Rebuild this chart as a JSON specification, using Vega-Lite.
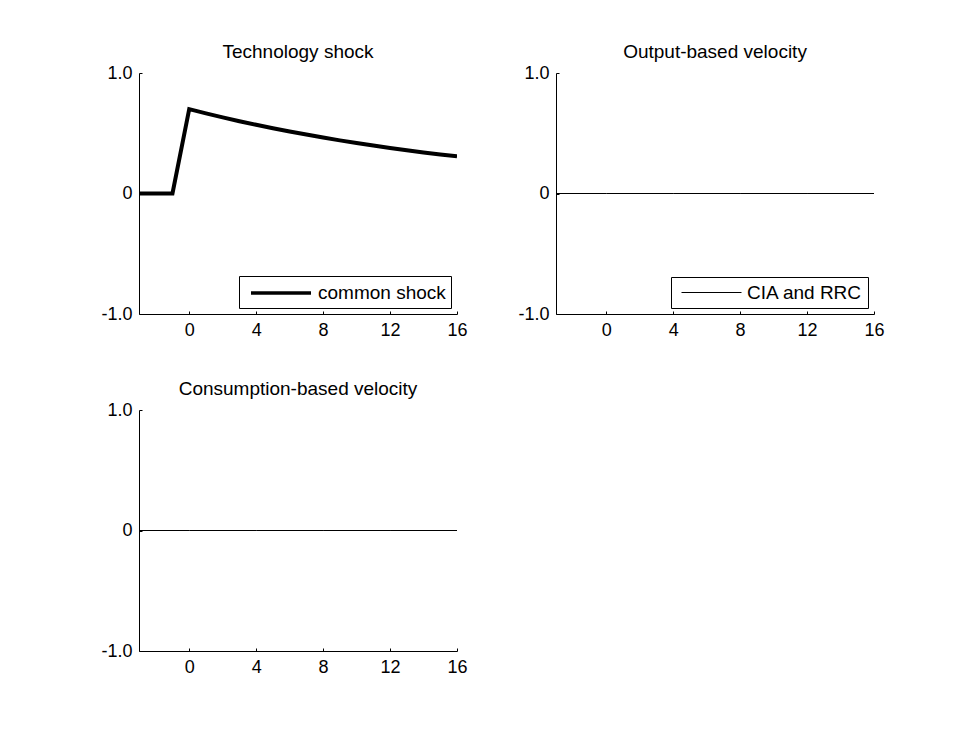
{
  "$schema": "https://vega.github.io/schema/vega-lite/v6.json",
  "autosize": {"type": "pad"},
  "padding": {"left": 100, "top": 43, "right": 10, "bottom": 10},
  "background": "white",
  "config": {
    "font": "Liberation Sans",
    "view": {"stroke": null},
    "axis": {
      "grid": false,
      "domainColor": "#000000",
      "tickColor": "#000000",
      "labelColor": "#000000",
      "labelFont": "Liberation Sans",
      "labelFontSize": 18,
      "tickSize": -3,
      "labelFlush": false,
      "labelOverlap": false,
      "title": null
    },
    "title": {"font": "Liberation Sans", "fontSize": 19, "fontWeight": "normal", "color": "#000000", "offset": 2},
    "legend": {
      "orient": "bottom-right",
      "offset": 6,
      "strokeColor": "#000000",
      "fillColor": "white",
      "padding": 5,
      "labelFont": "Liberation Sans",
      "labelFontSize": 19,
      "labelColor": "#000000",
      "symbolType": "M-0.5,0H5.5",
      "symbolSize": 400,
      "labelOffset": 50,
      "title": null
    }
  },
  "data": {
    "values": [
      {"panel": "tech", "series": "common shock", "t": -3, "v": 0},
      {"panel": "tech", "series": "common shock", "t": -2, "v": 0},
      {"panel": "tech", "series": "common shock", "t": -1, "v": 0},
      {"panel": "tech", "series": "common shock", "t": 0, "v": 0.700},
      {"panel": "tech", "series": "common shock", "t": 1, "v": 0.665},
      {"panel": "tech", "series": "common shock", "t": 2, "v": 0.632},
      {"panel": "tech", "series": "common shock", "t": 3, "v": 0.600},
      {"panel": "tech", "series": "common shock", "t": 4, "v": 0.570},
      {"panel": "tech", "series": "common shock", "t": 5, "v": 0.542},
      {"panel": "tech", "series": "common shock", "t": 6, "v": 0.515},
      {"panel": "tech", "series": "common shock", "t": 7, "v": 0.489},
      {"panel": "tech", "series": "common shock", "t": 8, "v": 0.464},
      {"panel": "tech", "series": "common shock", "t": 9, "v": 0.441},
      {"panel": "tech", "series": "common shock", "t": 10, "v": 0.419},
      {"panel": "tech", "series": "common shock", "t": 11, "v": 0.398},
      {"panel": "tech", "series": "common shock", "t": 12, "v": 0.378},
      {"panel": "tech", "series": "common shock", "t": 13, "v": 0.359},
      {"panel": "tech", "series": "common shock", "t": 14, "v": 0.341},
      {"panel": "tech", "series": "common shock", "t": 15, "v": 0.324},
      {"panel": "tech", "series": "common shock", "t": 16, "v": 0.308},
      {"panel": "output", "series": "CIA and RRC", "t": -3, "v": 0},
      {"panel": "output", "series": "CIA and RRC", "t": 0, "v": 0},
      {"panel": "output", "series": "CIA and RRC", "t": 4, "v": 0},
      {"panel": "output", "series": "CIA and RRC", "t": 8, "v": 0},
      {"panel": "output", "series": "CIA and RRC", "t": 12, "v": 0},
      {"panel": "output", "series": "CIA and RRC", "t": 16, "v": 0},
      {"panel": "cons", "series": "CIA and RRC", "t": -3, "v": 0},
      {"panel": "cons", "series": "CIA and RRC", "t": 0, "v": 0},
      {"panel": "cons", "series": "CIA and RRC", "t": 4, "v": 0},
      {"panel": "cons", "series": "CIA and RRC", "t": 8, "v": 0},
      {"panel": "cons", "series": "CIA and RRC", "t": 12, "v": 0},
      {"panel": "cons", "series": "CIA and RRC", "t": 16, "v": 0}
    ]
  },
  "bounds": "flush",
  "columns": 2,
  "spacing": {"row": 96, "column": 99},
  "resolve": {"scale": {"color": "independent"}, "legend": {"color": "independent"}},
  "concat": [
    {
      "title": "Technology shock",
      "width": 318,
      "height": 241,
      "transform": [{"filter": "datum.panel === 'tech'"}],
      "mark": {"type": "line", "strokeWidth": 4, "clip": true},
      "encoding": {
        "x": {"field": "t", "type": "quantitative", "scale": {"domain": [-3, 16], "nice": false, "zero": false},
              "axis": {"values": [0, 4, 8, 12, 16], "format": "d", "orient": "bottom", "labelPadding": 10}},
        "y": {"field": "v", "type": "quantitative", "scale": {"domain": [-1, 1], "nice": false},
              "axis": {"values": [-1, 0, 1], "labelExpr": "datum.value == 0 ? '0' : (datum.value > 0 ? '1.0' : '-1.0')", "labelPadding": 10}},
        "color": {"field": "series", "type": "nominal", "scale": {"range": ["#000000"]},
                  "legend": {"symbolStrokeWidth": 3.5}}
      }
    },
    {
      "title": "Output-based velocity",
      "width": 318,
      "height": 241,
      "transform": [{"filter": "datum.panel === 'output'"}],
      "mark": {"type": "line", "strokeWidth": 1, "clip": true},
      "encoding": {
        "x": {"field": "t", "type": "quantitative", "scale": {"domain": [-3, 16], "nice": false, "zero": false},
              "axis": {"values": [0, 4, 8, 12, 16], "format": "d", "orient": "bottom", "labelPadding": 10}},
        "y": {"field": "v", "type": "quantitative", "scale": {"domain": [-1, 1], "nice": false},
              "axis": {"values": [-1, 0, 1], "labelExpr": "datum.value == 0 ? '0' : (datum.value > 0 ? '1.0' : '-1.0')", "labelPadding": 10}},
        "color": {"field": "series", "type": "nominal", "scale": {"range": ["#000000"]},
                  "legend": {"symbolStrokeWidth": 1}}
      }
    },
    {
      "title": "Consumption-based velocity",
      "width": 318,
      "height": 241,
      "transform": [{"filter": "datum.panel === 'cons'"}],
      "mark": {"type": "line", "strokeWidth": 1, "color": "#000000", "clip": true},
      "encoding": {
        "x": {"field": "t", "type": "quantitative", "scale": {"domain": [-3, 16], "nice": false, "zero": false},
              "axis": {"values": [0, 4, 8, 12, 16], "format": "d", "orient": "bottom", "labelPadding": 10}},
        "y": {"field": "v", "type": "quantitative", "scale": {"domain": [-1, 1], "nice": false},
              "axis": {"values": [-1, 0, 1], "labelExpr": "datum.value == 0 ? '0' : (datum.value > 0 ? '1.0' : '-1.0')", "labelPadding": 10}}
      }
    }
  ]
}
